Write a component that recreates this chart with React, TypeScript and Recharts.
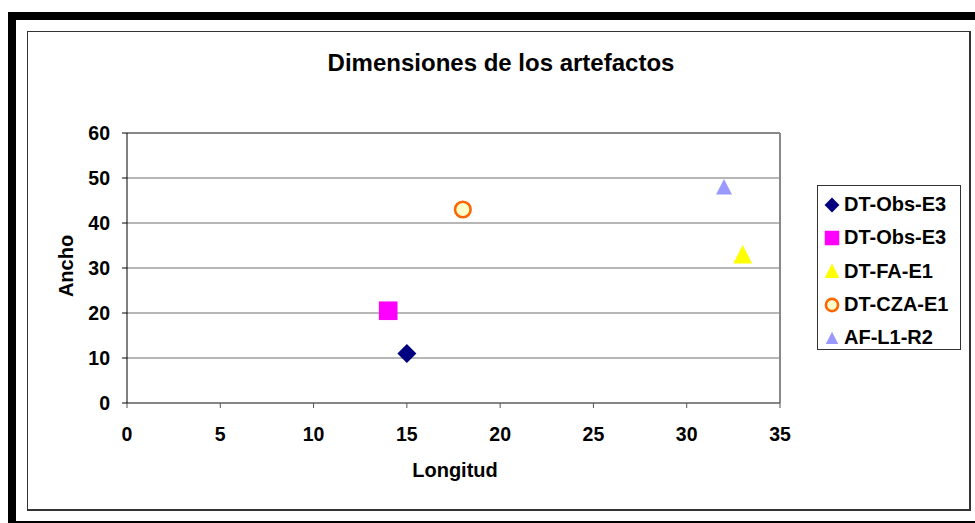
import {
  ScatterChart,
  Scatter,
  XAxis,
  YAxis,
  CartesianGrid,
  ReferenceLine,
  Legend,
} from "recharts";

const seriesNames = ["DT-Obs-E3", "DT-Obs-E3", "DT-FA-E1", "DT-CZA-E1", "AF-L1-R2"];
const longitud = [15, 14, 33, 18, 32];
const ancho = [11, 20.5, 33, 43, 48];
const xTicks = [0, 5, 10, 15, 20, 25, 30, 35];
const yTicks = [0, 10, 20, 30, 40, 50, 60];

const FONT = '"Liberation Sans", Arial, sans-serif';

type MarkerKind = "diamond" | "square" | "triangle" | "circle" | "smallTriangle";

const MARKERS: { kind: MarkerKind; fill: string; stroke?: string }[] = [
  { kind: "diamond", fill: "#000080" },
  { kind: "square", fill: "#FF00FF" },
  { kind: "triangle", fill: "#FFFF00" },
  { kind: "circle", fill: "#FFFFCC", stroke: "#FF6600" },
  { kind: "smallTriangle", fill: "#9999FF" },
];

function Marker({ kind, fill, stroke, cx, cy, scale = 1 }: {
  kind: MarkerKind;
  fill: string;
  stroke?: string;
  cx: number;
  cy: number;
  scale?: number;
}) {
  switch (kind) {
    case "diamond": {
      const r = 9.5 * scale;
      return <polygon points={`${cx},${cy - r} ${cx + r},${cy} ${cx},${cy + r} ${cx - r},${cy}`} fill={fill} />;
    }
    case "square": {
      const h = 9.3 * scale;
      return <rect x={cx - h} y={cy - h} width={h * 2} height={h * 2} fill={fill} />;
    }
    case "triangle": {
      const w = 9.5 * scale;
      return <polygon points={`${cx},${cy - w} ${cx + w},${cy + w * 0.95} ${cx - w},${cy + w * 0.95}`} fill={fill} />;
    }
    case "smallTriangle": {
      const w = 8 * scale;
      return <polygon points={`${cx},${cy - w} ${cx + w},${cy + w * 0.95} ${cx - w},${cy + w * 0.95}`} fill={fill} />;
    }
    case "circle":
      return <circle cx={cx} cy={cy} r={7.8 * scale} fill={fill} stroke={stroke} strokeWidth={2.6} />;
  }
}

function LegendBox() {
  return (
    <div
      style={{
        width: 144,
        height: 165,
        border: "1px solid #333",
        background: "#fff",
        boxSizing: "border-box",
        paddingTop: 2,
      }}
    >
      {seriesNames.map((name, i) => (
        <div key={i} style={{ display: "flex", alignItems: "center", height: 33.3 }}>
          <svg width={26} height={24} style={{ flex: "none" }}>
            <Marker {...MARKERS[i]} cx={14} cy={12} scale={0.78} />
          </svg>
          <span
            style={{
              fontFamily: FONT,
              fontWeight: "bold",
              fontSize: 20,
              color: "#000",
              whiteSpace: "nowrap",
            }}
          >
            {name}
          </span>
        </div>
      ))}
    </div>
  );
}

export default function App() {
  return (
    <div style={{ position: "absolute", left: 0, top: 0, width: 975, height: 523, background: "#fff", overflow: "hidden" }}>
      {/* outer frame */}
      <div style={{ position: "absolute", left: 8, top: 12, width: 8, height: 511, background: "#000" }} />
      <div style={{ position: "absolute", left: 8, top: 12, width: 967, height: 8, background: "#000" }} />
      <div style={{ position: "absolute", left: 16, top: 521, width: 959, height: 1.5, background: "#000" }} />
      {/* chart area border */}
      <div
        style={{
          position: "absolute",
          left: 27,
          top: 31,
          width: 944,
          height: 480,
          border: "1px solid #333",
          borderBottomWidth: 2,
          borderRightWidth: 2,
          boxSizing: "border-box",
        }}
      />

      <div
        style={{
          position: "absolute",
          left: 0,
          top: 51,
          width: 1002,
          textAlign: "center",
          fontFamily: FONT,
          fontWeight: "bold",
          fontSize: 24,
          lineHeight: "24px",
          color: "#000",
        }}
      >
        Dimensiones de los artefactos
      </div>

      <div
        style={{
          position: "absolute",
          left: 0,
          top: 460,
          width: 910,
          textAlign: "center",
          fontFamily: FONT,
          fontWeight: "bold",
          fontSize: 20,
          lineHeight: "20px",
          color: "#000",
        }}
      >
        Longitud
      </div>

      <div
        style={{
          position: "absolute",
          left: 66,
          top: 266,
          transform: "translate(-50%, -50%) rotate(-90deg)",
          fontFamily: FONT,
          fontWeight: "bold",
          fontSize: 20,
          lineHeight: "20px",
          color: "#000",
          whiteSpace: "nowrap",
        }}
      >
        Ancho
      </div>

      <div style={{ position: "absolute", left: 0, top: 0 }}>
        <ScatterChart
          width={975}
          height={523}
          margin={{ top: 133, right: 195, bottom: 90, left: 67 }}
        >
          <CartesianGrid horizontal vertical={false} stroke="#6e6e6e" strokeWidth={1} />
          <XAxis
            type="number"
            dataKey="x"
            domain={[0, 35]}
            ticks={xTicks}
            interval={0}
            height={30}
            stroke="#555"
            tickSize={5}
            tickMargin={19}
            tick={{ fill: "#000", fontFamily: FONT, fontWeight: "bold", fontSize: 19.5 }}
          />
          <YAxis
            type="number"
            dataKey="y"
            domain={[0, 60]}
            ticks={yTicks}
            interval={0}
            width={60}
            stroke="#000"
            tickSize={5}
            tickMargin={12}
            tick={{ fill: "#000", fontFamily: FONT, fontWeight: "bold", fontSize: 19.5 }}
          />
          <ReferenceLine y={60} stroke="#888" strokeWidth={2} />
          <ReferenceLine x={35} stroke="#888" strokeWidth={2} />
          {seriesNames.map((name, i) => (
            <Scatter
              key={i}
              name={name}
              data={[{ x: longitud[i], y: ancho[i] }]}
              isAnimationActive={false}
              shape={(props: any) => <Marker {...MARKERS[i]} cx={props.cx} cy={props.cy} />}
            />
          ))}
          <Legend
            layout="horizontal"
            verticalAlign="middle"
            align="center"
            content={() => <LegendBox />}
            wrapperStyle={{ position: "absolute", left: 817, top: 185, width: 144, height: 165 }}
          />
        </ScatterChart>
      </div>
    </div>
  );
}
